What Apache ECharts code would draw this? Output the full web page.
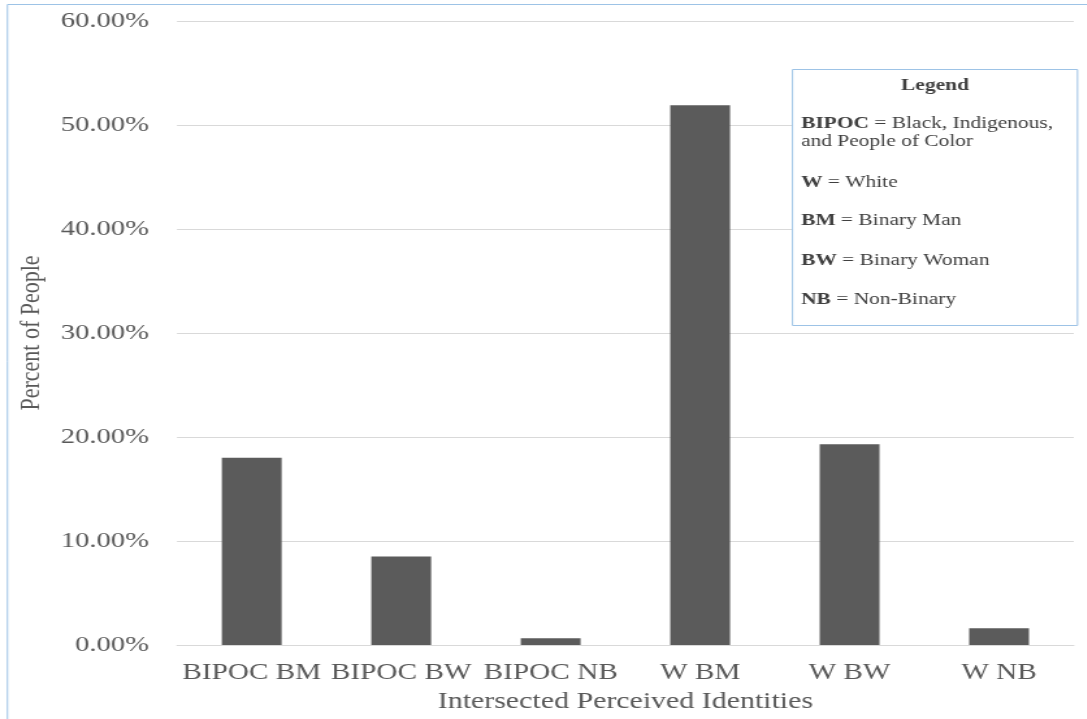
<!DOCTYPE html>
<html>
<head>
<meta charset="utf-8">
<script src="https://cdn.jsdelivr.net/npm/echarts@6/dist/echarts.min.js"></script>
<style>
  html, body { margin: 0; padding: 0; background: #fff; overflow: hidden; }
  /* The chart is laid out narrower and widened horizontally, giving the wide serif look */
  #chart { width: 836px; height: 719px; transform: scaleX(1.3); transform-origin: 0 0; }
</style>
</head>
<body>
<div id="chart"></div>
<script>
// Share of people by intersected perceived identity (percent)
const categories = ['BIPOC BM', 'BIPOC BW', 'BIPOC NB', 'W BM', 'W BW', 'W NB'];
const percentValues = [18.0, 8.5, 0.65, 51.9, 19.3, 1.6];
const yTicks = { min: 0, max: 60, interval: 10 };

const legendTitle = 'Legend';
const legendLines = [
  { key: 'BIPOC', text: ' = Black, Indigenous,' },
  { key: '', text: 'and People of Color' },
  { key: 'W', text: ' = White' },
  { key: 'BM', text: ' = Binary Man' },
  { key: 'BW', text: ' = Binary Woman' },
  { key: 'NB', text: ' = Non-Binary' }
];

const SX = 1.3; // horizontal stretch applied by CSS
const px = x => x / SX; // page x -> chart x

const serif = '"Liberation Serif", "Times New Roman", serif';
const textColor = '#595959';
const legendColor = '#404040';

const chart = echarts.init(document.getElementById('chart'), null, { renderer: 'canvas' });

// Legend box lines as rich text
const legendY = [124, 142, 183, 221, 261, 300];
const legendTexts = legendLines.map((l, i) => ({
  type: 'text',
  z: 11,
  style: {
    x: px(801),
    y: legendY[i],
    verticalAlign: 'middle',
    text: (l.key ? '{b|' + l.key + '}' : '') + '{n|' + l.text + '}',
    rich: {
      b: { fontFamily: serif, fontSize: 16.5, fontWeight: 'bold', fill: legendColor },
      n: { fontFamily: serif, fontSize: 16.5, fill: legendColor }
    }
  }
}));

chart.setOption({
  backgroundColor: '#ffffff',
  animation: false,
  grid: { left: px(177), right: px(13), top: 21, bottom: 74, outerBoundsMode: 'none', containLabel: false },
  xAxis: {
    type: 'category',
    data: categories,
    name: 'Intersected Perceived Identities',
    nameLocation: 'middle',
    nameGap: 45,
    nameTextStyle: { fontFamily: serif, fontSize: 23, color: textColor },
    axisLine: { show: true, lineStyle: { color: '#d9d9d9', width: 1 } },
    axisTick: { show: false },
    axisLabel: { fontFamily: serif, fontSize: 22.5, color: textColor, margin: 17, interval: 0 }
  },
  yAxis: {
    type: 'value',
    min: yTicks.min,
    max: yTicks.max,
    interval: yTicks.interval,
    name: 'Percent of People',
    nameLocation: 'middle',
    nameGap: px(131),
    nameRotate: 90,
    nameTextStyle: { fontFamily: serif, fontSize: 22, color: textColor },
    axisLine: { show: false },
    axisTick: { show: false },
    splitLine: { lineStyle: { color: '#d9d9d9', width: 1 } },
    axisLabel: {
      fontFamily: serif, fontSize: 22, color: textColor, margin: px(28),
      formatter: v => v.toFixed(2) + '%'
    }
  },
  series: [{
    type: 'bar',
    data: percentValues,
    barWidth: '40%',
    itemStyle: { color: '#5b5b5b' }
  }],
  graphic: [
    // outer frame edges
    { type: 'line', shape: { x1: px(7.5), y1: 4.5, x2: px(7.5), y2: 719 }, style: { stroke: '#9dc3e6', lineWidth: 1 } },
    { type: 'line', shape: { x1: px(7.5), y1: 4.5, x2: px(1087), y2: 4.5 }, style: { stroke: '#9dc3e6', lineWidth: 1 } },
    // legend box
    { type: 'rect', z: 10,
      shape: { x: px(792.5), y: 69.5, width: px(285), height: 256 },
      style: { fill: '#ffffff', stroke: '#9dc3e6', lineWidth: 1 } },
    { type: 'text', z: 11,
      style: { x: px(935), y: 86, align: 'center', verticalAlign: 'middle', text: legendTitle,
               fontFamily: serif, fontSize: 16.5, fontWeight: 'bold', fill: legendColor } },
    ...legendTexts
  ]
});
</script>
</body>
</html>
